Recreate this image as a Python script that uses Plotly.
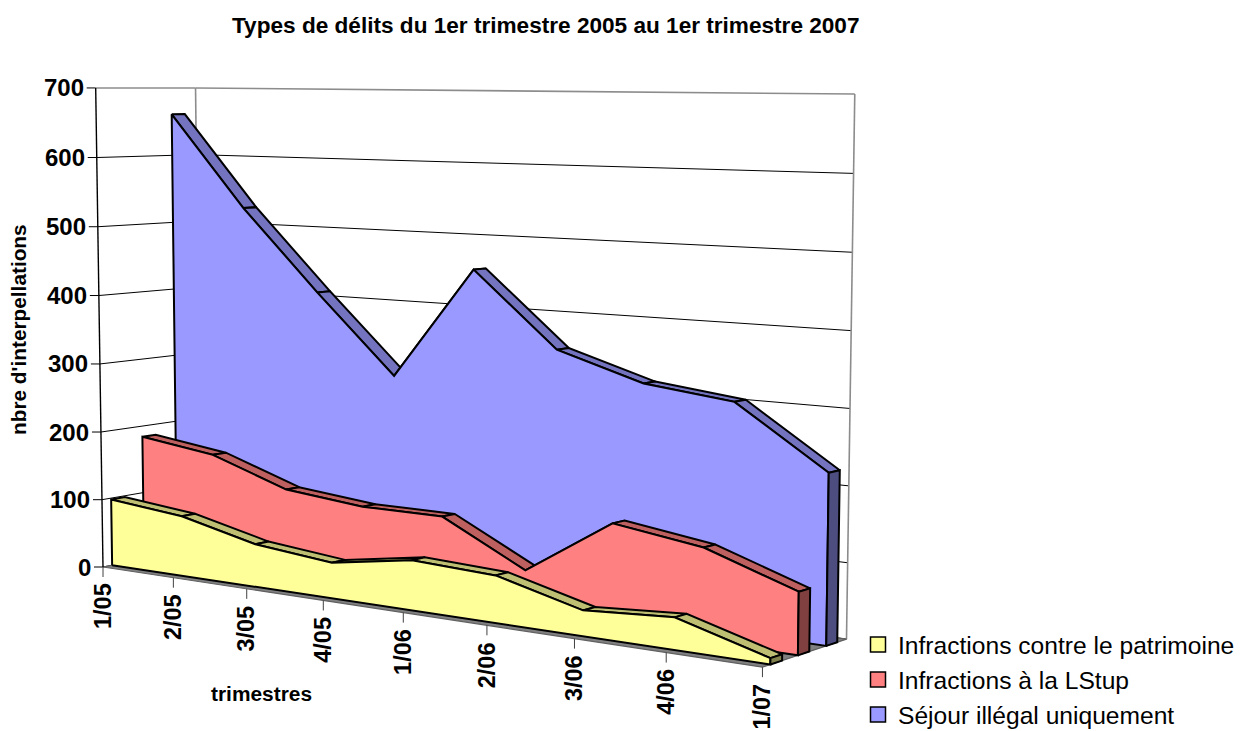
import plotly.graph_objects as go

# ---------- data ----------
TITLE = "Types de délits du 1er trimestre 2005 au 1er trimestre 2007"
Y_TITLE = "nbre d'interpellations"
X_TITLE = "trimestres"
quarters = ["1/05", "2/05", "3/05", "4/05", "1/06", "2/06", "3/06", "4/06", "1/07"]
value_ticks = [0, 100, 200, 300, 400, 500, 600, 700]

patrimoine = [98, 87, 61, 50, 69, 64, 34, 42, 8]
lstup = [184, 169, 131, 120, 120, 61, 139, 122, 81]
sejour = [661, 526, 409, 298, 455, 353, 317, 303, 223]

# ---------- styles ----------
FONT = "Liberation Sans"
series = [  # name, values, depth start, face, ribbon, cap
    ("Séjour illégal uniquement", sejour, 0.75, "#9999FF", "#7373BF", "#4D4D80"),
    ("Infractions à la LStup", lstup, 0.41, "#FF8080", "#BF6060", "#804040"),
    ("Infractions contre le patrimoine", patrimoine, 0.09, "#FFFF99", "#BFBF73", "#80804D"),
]
legend_order = [2, 1, 0]
THICK = 0.135
ZMAX = 700.0

# ---------- perspective projection (three vanishing points) ----------
O = (103.0, 567.0)
VX, A = (-3261.0, 56.0), -0.1639
VY, B = (2500.0, 88.0), 0.0425
VZ, C = (476.0, 25000.0), -0.01923


def proj(i, d, v):
    """category index, depth 0-1, value -> picture coordinates"""
    xn, yn, zn = i / (len(quarters) - 1), d, v / ZMAX
    w = 1 + A * xn + B * yn + C * zn
    px = O[0] + A * xn * VX[0] + B * yn * VY[0] + C * zn * VZ[0]
    py = O[1] + A * xn * VX[1] + B * yn * VY[1] + C * zn * VZ[1]
    return px / w, py / w


fig = go.Figure()
LAST = len(quarters) - 1


def poly(pts, fill, line="black", width=2, name=None):
    xs = [p[0] for p in pts] + [pts[0][0]]
    ys = [p[1] for p in pts] + [pts[0][1]]
    fig.add_trace(go.Scatter(x=xs, y=ys, mode="lines", fill="toself", fillcolor=fill,
                             line=dict(color=line, width=width), showlegend=False,
                             hoverinfo="skip", name=name))


def lines(segs, color, width):
    xs, ys = [], []
    for a, b in segs:
        xs += [a[0], b[0], None]
        ys += [a[1], b[1], None]
    fig.add_trace(go.Scatter(x=xs, y=ys, mode="lines", line=dict(color=color, width=width),
                             showlegend=False, hoverinfo="skip"))


# gridlines on the two walls
lines([(proj(0, 0, t), proj(0, 1, t)) for t in value_ticks if t < ZMAX], "black", 1)
lines([(proj(0, 1, t), proj(LAST, 1, t)) for t in value_ticks if t < ZMAX], "black", 1)
# wall outline
lines([(proj(0, 0, ZMAX), proj(0, 1, ZMAX)), (proj(0, 1, ZMAX), proj(LAST, 1, ZMAX)),
       (proj(0, 1, 0), proj(0, 1, ZMAX)), (proj(LAST, 1, 0), proj(LAST, 1, ZMAX))], "#8c8c8c", 1.6)
# floor
poly([proj(0, 0, 0), proj(LAST, 0, 0), proj(LAST, 1, 0), proj(0, 1, 0)], "#808080", "#606060", 1.2)
# value axis and ticks
lines([(proj(0, 0, 0), proj(0, 0, ZMAX))], "black", 1.4)
z_ticks = []
for t in value_ticks:
    p = proj(0, 0, t)
    z_ticks.append((p, (p[0] - 9, p[1])))
lines(z_ticks, "black", 1)
# category ticks
x_ticks = []
for i in range(len(quarters)):
    p = proj(i, 0, 0)
    x_ticks.append((p, (p[0], p[1] + 10)))
lines(x_ticks, "#404040", 1)

# areas, back to front
for name, vals, d0, face, ribbon, cap in series:
    d1 = d0 + THICK
    for i in range(LAST):
        poly([proj(i, d0, vals[i]), proj(i + 1, d0, vals[i + 1]),
              proj(i + 1, d1, vals[i + 1]), proj(i, d1, vals[i])], ribbon, name=name)
    poly([proj(i, d0, 0) for i in range(LAST + 1)] +
         [proj(i, d0, vals[i]) for i in range(LAST, -1, -1)], face, name=name)
    poly([proj(LAST, d0, 0), proj(LAST, d1, 0), proj(LAST, d1, vals[LAST]),
          proj(LAST, d0, vals[LAST])], cap, name=name)

# legend entries
for k in legend_order:
    name, _, _, face, _, _ = series[k]
    fig.add_trace(go.Scatter(x=[None], y=[None], mode="markers", name=name, legendgroup=name,
                             marker=dict(symbol="square", size=15, color=face,
                                         line=dict(color="black", width=1.5))))

ann = []
for t in value_ticks:
    p = proj(0, 0, t)
    ann.append(dict(x=p[0] - 10, y=p[1], text=str(t), xanchor="right", yanchor="middle",
                    showarrow=False, font=dict(family=FONT, size=24, color="black", weight="bold")))
for i, q in enumerate(quarters):
    p = proj(i, 0, 0)
    ann.append(dict(x=p[0] - 0.5, y=p[1] + 14.5, text=q, textangle=-90, xanchor="center", yanchor="top",
                    showarrow=False, font=dict(family=FONT, size=23.5, color="black", weight="bold")))
ann.append(dict(x=546, y=25, text=TITLE, xanchor="center", yanchor="middle", showarrow=False,
                font=dict(family=FONT, size=22.6, color="black", weight="bold")))
ann.append(dict(x=18, y=330, text=Y_TITLE, textangle=-90, xanchor="center", yanchor="middle",
                showarrow=False, font=dict(family=FONT, size=20.8, color="black", weight="bold")))
ann.append(dict(x=261, y=693, text=X_TITLE, xanchor="center", yanchor="middle", showarrow=False,
                font=dict(family=FONT, size=20.9, color="black", weight="bold")))

fig.update_layout(
    width=1246, height=731, margin=dict(l=0, r=0, t=0, b=0, autoexpand=False),
    paper_bgcolor="white", plot_bgcolor="white",
    xaxis=dict(range=[0, 1246], visible=False, fixedrange=True),
    yaxis=dict(range=[731, 0], visible=False, fixedrange=True),
    annotations=ann,
    showlegend=True,
    legend=dict(x=858 / 1246, xanchor="left", y=1 - 622 / 731, yanchor="top",
                traceorder="normal", tracegroupgap=8,
                font=dict(family=FONT, size=24.6, color="black"), bgcolor="rgba(0,0,0,0)"),
)
fig.write_html("out.html", config={"displayModeBar": False},
               post_script="document.body.style.margin='0';")
